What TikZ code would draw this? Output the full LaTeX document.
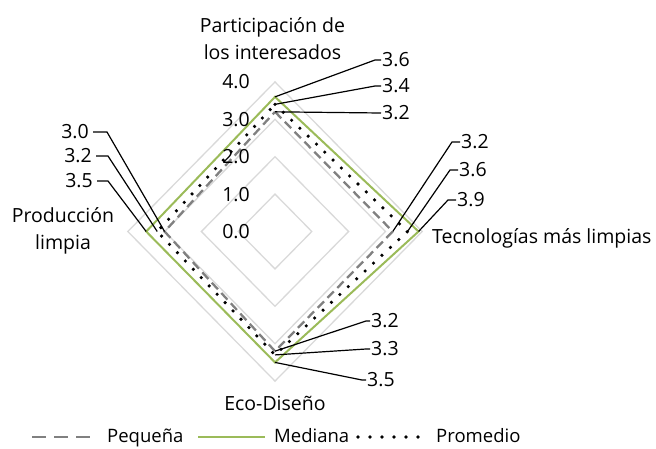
\documentclass[tikz,border=0pt]{standalone}
\usepackage{fontspec}
\setmainfont{Open Sans}
\usetikzlibrary{calc}
\definecolor{gridgray}{HTML}{D9D9D9}
\definecolor{smallgray}{HTML}{808080}
\definecolor{medgreen}{HTML}{9BBB59}
\begin{document}
\begin{tikzpicture}[x=1pt,y=-1pt,
  gridline/.style={draw=gridgray, line width=1.3pt},
  pequena/.style={draw=smallgray, line width=2.3pt, dash pattern=on 9pt off 5pt},
  pequenaleg/.style={draw=smallgray, line width=2.3pt, dash pattern=on 14pt off 8pt},
  mediana/.style={draw=medgreen, line width=2pt},
  promedio/.style={draw=black, line width=3.6pt, line cap=round, dash pattern=on 0pt off 11.5pt},
  promedioleg/.style={draw=black, line width=3.6pt, line cap=round, dash pattern=on 0pt off 12pt},
  leader/.style={draw=black, line width=1.2pt},
  lbl/.style={font=\fontsize{19.5}{23}\selectfont, inner sep=1pt},
  cat/.style={font=\fontsize{19.5}{27}\selectfont, inner sep=1pt},
  legtext/.style={font=\fontsize{18.5}{22}\selectfont, inner sep=1pt},
]
\useasboundingbox (0,0) rectangle (656,448);

% grid
\foreach \k in {1,2,3,4}
  \draw[gridline] (275,{231.5-37.4*\k}) -- ({275+36.8*\k},231.5) -- (275,{231.5+37.4*\k}) -- ({275-36.8*\k},231.5) -- cycle;

% data vertices
\coordinate (pT) at (275,{231.5-3.2*37.4});
\coordinate (pR) at ({275+3.2*36.8},231.5);
\coordinate (pB) at (275,{231.5+3.2*37.4});
\coordinate (pL) at ({275-3.0*36.8},231.5);
\coordinate (mT) at (275,{231.5-3.6*37.4});
\coordinate (mR) at ({275+3.9*36.8},231.5);
\coordinate (mB) at (275,{231.5+3.5*37.4});
\coordinate (mL) at ({275-3.5*36.8},231.5);
\coordinate (aT) at (275,{231.5-3.4*37.4});
\coordinate (aR) at ({275+3.6*36.8},231.5);
\coordinate (aB) at (275,{231.5+3.3*37.4});
\coordinate (aL) at ({275-3.2*36.8},231.5);

\draw[pequena] (pT) -- (pR) -- (pB) -- (pL) -- cycle;
\draw[mediana] (mT) -- (mR) -- (mB) -- (mL) -- cycle;
\draw[promedio] (aT) -- (aR) -- (aB) -- (aL) -- cycle;

% axis labels
\foreach \k/\t in {0/0.0,1/1.0,2/2.0,3/3.0,4/4.0}
  \node[lbl, anchor=east] (ax\k) at (251,{231.5-37.4*\k}) {\t};

% top data labels
\node[lbl, anchor=west] (lt1) at (381,60) {3.6};
\node[lbl, anchor=west] (lt2) at (381,86) {3.4};
\node[lbl, anchor=west] (lt3) at (381,113) {3.2};
\draw[leader] (mT) -- ($(lt1.west)+(-6,0)$) -- (lt1.west);
\draw[leader] (aT) -- ($(lt2.west)+(-6,0)$) -- (lt2.west);
\draw[leader] (pT) -- (lt3.west);

% right data labels
\node[lbl, anchor=west] (lr1) at (460,142) {3.2};
\node[lbl, anchor=west] (lr2) at (458,170) {3.6};
\node[lbl, anchor=west] (lr3) at (456,200) {3.9};
\draw[leader] (pR) -- ($(lr1.west)+(-8,0)$) -- (lr1.west);
\draw[leader] (aR) -- ($(lr2.west)+(-8,0)$) -- (lr2.west);
\draw[leader] (mR) -- ($(lr3.west)+(-8,0)$) -- (lr3.west);

% bottom data labels
\node[lbl, anchor=west] (lb1) at (370,321) {3.2};
\node[lbl, anchor=west] (lb2) at (370,349) {3.3};
\node[lbl, anchor=west] (lb3) at (366,380) {3.5};
\draw[leader] (pB) -- ($(lb1.west)+(-4,0)$) -- (lb1.west);
\draw[leader] (aB) -- ($(lb2.west)+(-4,0)$) -- (lb2.west);
\draw[leader] (mB) -- ($(lb3.west)+(-4,0)$) -- (lb3.west);

% left data labels
\node[lbl, anchor=east] (ll1) at (90,132) {3.0};
\node[lbl, anchor=east] (ll2) at (93,156) {3.2};
\node[lbl, anchor=east] (ll3) at (94,181) {3.5};
\draw[leader] ($(ll1.east)+(3,0)$) -- ($(ll1.east)+(17,0)$) -- (pL);
\draw[leader] ($(ll2.east)+(3,0)$) -- ($(ll2.east)+(15,0)$) -- (aL);
\draw[leader] ($(ll3.east)+(3,0)$) -- ($(ll3.east)+(14,0)$) -- (mL);

% category labels
\node[cat, align=center] (cTop) at (272.5,39) {Participación de\\los interesados};
\node[cat, anchor=base west] (cRight) at (431,243) {Tecnologías más limpias};
\node[cat, anchor=base] (cBot) at (275,410) {Eco-Diseño};
\node[cat, align=center] (cLeft) at (63,231) {Producción\\limpia};

% legend
\coordinate (lg1a) at (32,437); \coordinate (lg1b) at (90,437);
\coordinate (lg2a) at (198,437); \coordinate (lg2b) at (265,437);
\coordinate (lg3a) at (358,437); \coordinate (lg3b) at (418,437);
\draw[pequenaleg] (lg1a) -- (lg1b);
\draw[mediana] (lg2a) -- (lg2b);
\draw[promedioleg] (lg3a) -- (lg3b);
\node[legtext, anchor=base west] (lgt1) at (106,442.5) {Pequeña};
\node[legtext, anchor=base west] (lgt2) at (273,442.5) {Mediana};
\node[legtext, anchor=base west] (lgt3) at (435,442.5) {Promedio};
\end{tikzpicture}
\end{document}
